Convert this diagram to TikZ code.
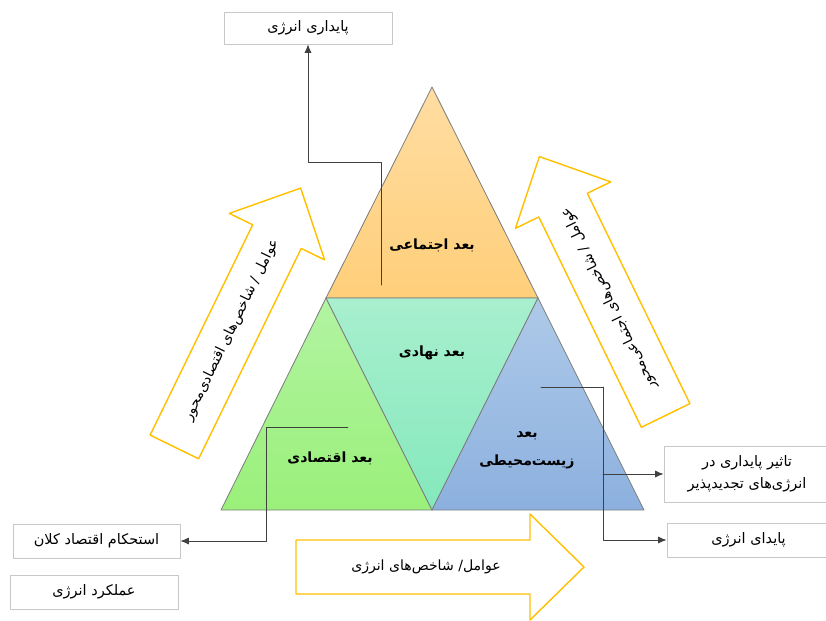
\documentclass[tikz,border=0pt]{standalone}
\usepackage{fontspec}
\newfontfamily\fa[Script=Arabic]{DejaVu Sans}
\TeXXeTstate=1
\usepackage{tikz}
\usetikzlibrary{arrows.meta}
\definecolor{ffdb9e}{HTML}{FFDDA2}
\definecolor{ffcf78}{HTML}{FFCF7A}
\definecolor{b0f2a0}{HTML}{B2F4A2}
\definecolor{9cf07c}{HTML}{9AF07A}
\definecolor{a8eecc}{HTML}{A8EFCE}
\definecolor{84e8bc}{HTML}{84E8BC}
\definecolor{acc8e8}{HTML}{AECAE9}
\definecolor{8cb0dc}{HTML}{8CB0DE}
\definecolor{ffc000}{HTML}{FFC000}
\definecolor{edgegray}{HTML}{7F7F7F}
\definecolor{boxgray}{HTML}{C8C8C8}
\definecolor{linkgray}{HTML}{404040}
% block arrow: centre, angle, name, text
\newcommand{\blockarrow}[4]{%
\begin{scope}[shift={#1},rotate=#2]
\draw[bigarrow] (-144,-27) -- (90,-27) -- (90,-53) -- (144,0) -- (90,53) -- (90,27) -- (-144,27) -- cycle;
\node[arrowlabel,rotate=#2] (#3) at (-14,0) {#4};
\end{scope}}

\begin{document}
\begin{tikzpicture}[line cap=round,line join=round,>={Latex[length=6pt,width=5pt]},x=0.025cm,y=-0.025cm,
  facet/.style={draw=edgegray,line width=0.6pt},
  facetlabel/.style={font=\fa\bfseries\fontsize{10}{20}\selectfont,align=center},
  infobox/.style={draw=boxgray,line width=0.5pt,fill=white,font=\fa\fontsize{10.3}{15.5}\selectfont,align=center,inner sep=0pt},
  link/.style={draw=linkgray,line width=0.6pt},
  bigarrow/.style={draw=ffc000,line width=1pt,fill=white},
  arrowlabel/.style={font=\fa\fontsize{10}{12}\selectfont}]
\useasboundingbox (0,0) rectangle (826,620);
% triangle corners
\coordinate (apex) at (432,87);
\coordinate (ml) at (326,298);
\coordinate (mr) at (538,298);
\coordinate (bl) at (221,510);
\coordinate (bm) at (432,510);
\coordinate (br) at (644,510);
% block arrows
\blockarrow{(237.5,317.5)}{64}{ecoarrow}{\beginR عوامل / شاخص‌های اقتصادی‌محور\endR}
\blockarrow{(602.5,286)}{116}{socarrow}{\beginR عوامل / شاخص‌های اجتماعی‌محور\endR}
\blockarrow{(440,567)}{0}{energyarrow}{\beginR عوامل/ شاخص‌های انرژی\endR}
% the four facets
\draw[facet,top color=ffdb9e,bottom color=ffcf78] (apex) -- (ml) -- (mr) -- cycle;
\draw[facet,top color=b0f2a0,bottom color=9cf07c] (ml) -- (bl) -- (bm) -- cycle;
\draw[facet,top color=a8eecc,bottom color=84e8bc] (ml) -- (mr) -- (bm) -- cycle;
\draw[facet,top color=acc8e8,bottom color=8cb0dc] (mr) -- (bm) -- (br) -- cycle;
\node[facetlabel] (social) at (432,245) {\beginR بعد اجتماعی\endR};
\node[facetlabel] (institution) at (432,353) {\beginR بعد نهادی\endR};
\node[facetlabel] (economy) at (330,458) {\beginR بعد اقتصادی\endR};
\node[facetlabel] (environment) at (527,450) {\beginR بعد\endR\\\beginR زیست‌محیطی\endR};
% boxes
\node[infobox,minimum width=4.2cm,minimum height=0.8cm] (paydari) at (308,28) {\beginR پایداری انرژی\endR};
\node[infobox,minimum width=4.175cm,minimum height=0.85cm] (estehkam) at (96.5,541) {\beginR استحکام اقتصاد کلان\endR};
\node[infobox,minimum width=4.2cm,minimum height=0.85cm] (amalkard) at (94,592) {\beginR عملکرد انرژی\endR};
\node[infobox,minimum width=4.15cm,minimum height=1.4cm] (tasir) at (747,474) {\beginR تاثیر پایداری در\endR\\\beginR انرژی‌های تجدیدپذیر\endR};
\node[infobox,minimum width=4.075cm,minimum height=0.85cm] (payday) at (748.5,540) {\beginR پایدای انرژی\endR};
% connectors
\coordinate (socfoot) at (381,285);
\coordinate (ecofoot) at (348,427);
\coordinate (envfoot) at (541,387);
\draw[link,->] (socfoot) -- ++(0,-123) -| (paydari.south);
\draw[link,->] (ecofoot) -- ++(-82,0) |- (estehkam.east);
\draw[link] (envfoot) -- ++(62,0) coordinate (envturn);
\draw[link,->] (envturn) |- (payday.west);
\draw[link,->] (envturn |- tasir.west) -- (tasir.west);
\end{tikzpicture}
\end{document}
